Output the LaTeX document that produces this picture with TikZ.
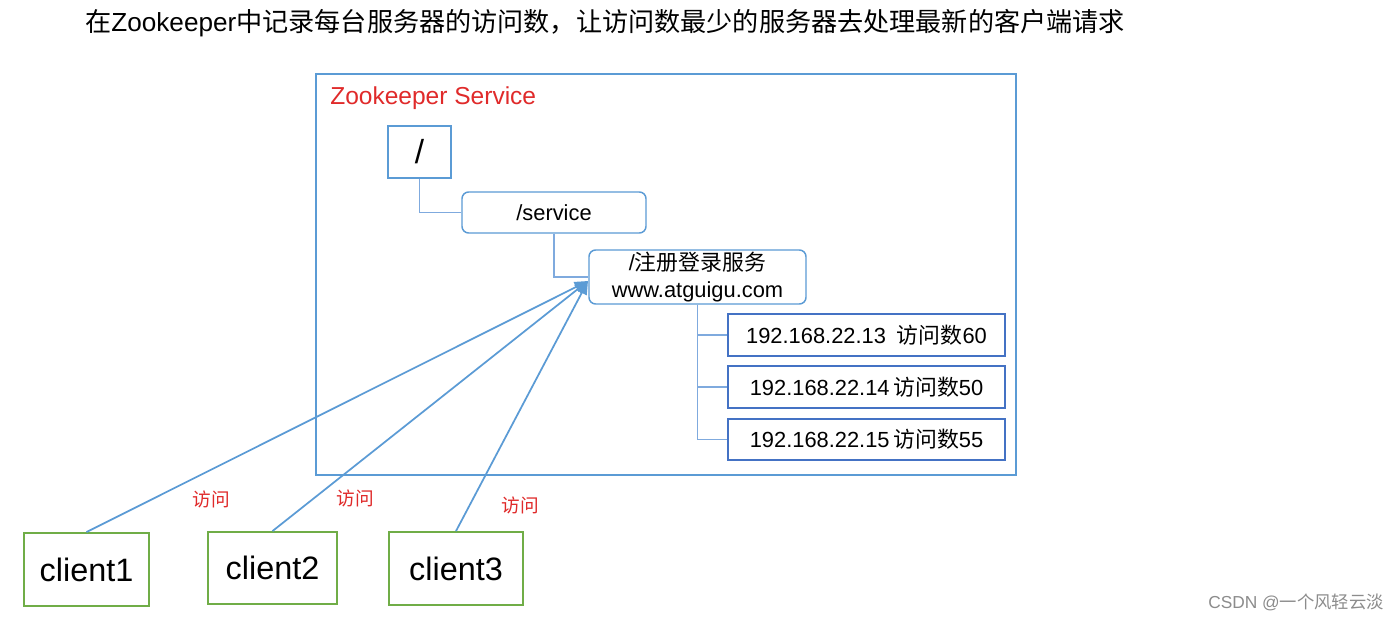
\documentclass[tikz,border=0pt]{standalone}
\usepackage{fontspec}
\setmainfont{Liberation Sans}
\newfontfamily\cjk{Noto Sans CJK SC}
\usetikzlibrary{arrows.meta}
\definecolor{zkblue}{HTML}{5B9BD5}
\definecolor{lineblue}{HTML}{7FAADE}
\definecolor{ipblue}{HTML}{4472C4}
\definecolor{cgreen}{HTML}{70AD47}
\definecolor{zkred}{HTML}{E02A2A}
\begin{document}
\begin{tikzpicture}[x=0.75pt,y=-0.75pt,
  sqbox/.style={draw=zkblue,line width=1.3pt,inner sep=0pt,align=center},
  rbox/.style={draw=zkblue,line width=1.1pt,rounded corners=5pt,inner sep=0pt,align=center,
    font=\fontsize{16.4}{20}\selectfont},
  ipbox/.style={draw=ipblue,line width=1.2pt,inner sep=0pt,minimum width=207.75pt,
    font=\fontsize{16.4}{20}\selectfont},
  clientbox/.style={draw=cgreen,line width=1.4pt,inner sep=0pt,font=\fontsize{24.3}{28}\selectfont},
  tree/.style={draw=lineblue,line width=1.1pt},
  visit/.style={draw=zkblue,line width=1.3pt,-{Triangle[length=10pt,width=8pt]}},
  redlbl/.style={text=zkred,inner sep=0pt,font=\cjk\fontsize{14}{16}\selectfont}]
\useasboundingbox (0,0) rectangle (1400,619);
\fill[white] (0,0) rectangle (1400,619);
% title
\node[anchor=west,inner sep=0pt,font=\fontsize{19.6}{24}\selectfont] (title) at (85,23)
  {{\cjk 在}Zookeeper{\cjk 中记录每台服务器的访问数，让访问数最少的服务器去处理最新的客户端请求}};
% outer service box
\node[draw=zkblue,line width=1.5pt,inner sep=0pt,minimum width=525pt,minimum height=300.75pt] (svc) at (666,274.5) {};
\node[anchor=west,inner sep=0pt,text=zkred,font=\fontsize{18.4}{22}\selectfont] (svcl) at (330,98) {Zookeeper Service};
% tree nodes
\node[sqbox,minimum width=47.25pt,minimum height=39pt,font=\fontsize{25}{28}\selectfont] (root) at (419.5,152) {/};
\node[rbox,minimum width=138pt,minimum height=30.75pt] (service) at (554,212.5) {/service};
\node[rbox,minimum width=162.75pt,minimum height=40.5pt] (reg) at (697.5,277)
  {/{\cjk 注册登录服务}\\[0pt]www.atguigu.com};
\node[ipbox,minimum height=31.5pt] (ip1) at (866.5,335) {192.168.22.13\enspace{\cjk 访问数}60};
\node[ipbox,minimum height=31.5pt] (ip2) at (866.5,387) {192.168.22.14\,{\cjk 访问数}50};
\node[ipbox,minimum height=30.75pt] (ip3) at (866.5,439.5) {192.168.22.15\,{\cjk 访问数}55};
% tree connectors
\draw[tree] (root.south) |- (service.west);
\draw[tree] (service.south) |- (reg.west);
\draw[tree] (reg.south) |- (ip1.west);
\draw[tree] (reg.south) |- (ip2.west);
\draw[tree] (reg.south) |- (ip3.west);
% clients
\node[clientbox,minimum width=93.75pt,minimum height=54.75pt] (c1) at (86.5,569.5) {client1};
\node[clientbox,minimum width=96.75pt,minimum height=54pt] (c2) at (272.5,568) {client2};
\node[clientbox,minimum width=100.5pt,minimum height=54.75pt] (c3) at (456,568.5) {client3};
\coordinate (tip) at (588,281);
\draw[visit] (c1.north) -- (tip);
\draw[visit] (c2.north) -- (tip);
\draw[visit] (c3.north) -- (tip);
\node[redlbl] (v1) at (211,499) {访问};
\node[redlbl] (v2) at (355,498) {访问};
\node[redlbl] (v3) at (520,505) {访问};
% watermark
\node[anchor=west,inner sep=0pt,text=black!45,font=\fontsize{13}{15}\selectfont] (wm) at (1208,602)
  {CSDN @{\cjk 一个风轻云淡}};
\end{tikzpicture}
\end{document}
